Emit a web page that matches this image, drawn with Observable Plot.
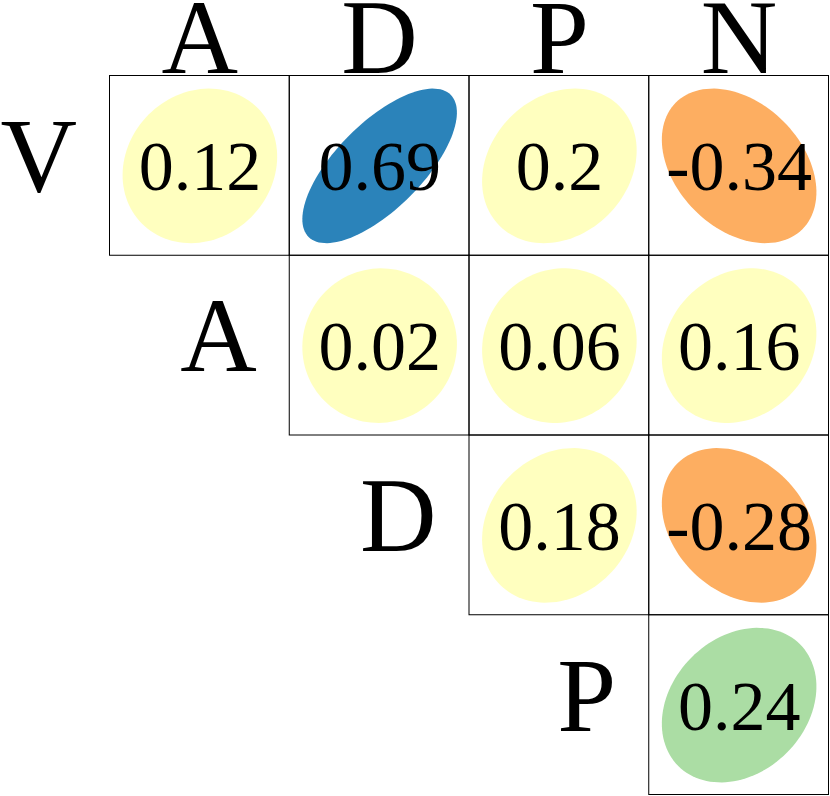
<!DOCTYPE html>
<html>
<head>
<meta charset="utf-8">
<script src="https://cdn.jsdelivr.net/npm/d3@7"></script>
<script src="https://cdn.jsdelivr.net/npm/@observablehq/plot@0.6"></script>
<style>
  html, body { margin: 0; padding: 0; background: #fff; }
  #chart svg { display: block; }
</style>
</head>
<body>
<div id="chart"></div>
<script>
// Row and column labels
const rowLabels = ["V", "A", "D", "P"];
const colLabels = ["A", "D", "P", "N"];
// Correlations, upper triangle (null = no cell)
const corrV = [0.12, 0.69, 0.2, -0.34];
const corrA = [null, 0.02, 0.06, 0.16];
const corrD = [null, null, 0.18, -0.28];
const corrP = [null, null, null, 0.24];
const corrRows = [corrV, corrA, corrD, corrP];
// Colour bins (right-closed, like R's cut) and palette
const binBreaks = [-0.6, -0.2, 0.2, 0.6];
const palette = ["#D7191C", "#FDAE61", "#FFFFBF", "#ABDDA4", "#2B83BA"];

const cells = [];
corrRows.forEach((row, i) => row.forEach((r, j) => {
  if (r !== null) cells.push({row: i, col: j, r, bin: d3.bisectLeft(binBreaks, r), id: `${i}-${j}`});
}));

// Ellipse outline per cell (shape of a bivariate normal contour with correlation r)
const scale = 0.43;
const ellipsePts = [];
for (const c of cells) {
  const dd = Math.acos(c.r);
  for (let k = 0; k < 120; k++) {
    const t = (2 * Math.PI * k) / 120;
    ellipsePts.push({
      id: c.id, bin: c.bin,
      x: c.col + 0.5 + scale * Math.cos(t + dd / 2),
      y: c.row + 0.5 - scale * Math.cos(t - dd / 2)
    });
  }
}

const font = "Liberation Serif";

const chart = Plot.plot({
  width: 830,
  height: 796,
  marginLeft: 109.5,
  marginRight: 1.5,
  marginTop: 75.5,
  marginBottom: 1.5,
  x: {domain: [0, 4], axis: null},
  y: {domain: [0, 4], reverse: true, axis: null},
  color: {type: "ordinal", domain: [0, 1, 2, 3, 4], range: palette},
  marks: [
    Plot.line(ellipsePts, {x: "x", y: "y", z: "id", fill: "bin", stroke: null, curve: "linear-closed"}),
    Plot.rect(cells, {x1: d => d.col, x2: d => d.col + 1, y1: d => d.row, y2: d => d.row + 1, fill: "none", stroke: "black", strokeWidth: 1}),
    Plot.text(cells, {x: d => d.col + 0.5, y: d => d.row + 0.5, text: d => String(d.r), fontFamily: font, fontSize: 70, lineAnchor: "bottom", dy: 24.5, fill: "black"}),
    Plot.text(colLabels, {x: (d, j) => j + 0.5, y: () => 0, text: d => d, fontFamily: font, fontSize: 106, lineAnchor: "bottom", dy: -3.5, fill: "black"}),
    Plot.text(rowLabels, {x: (d, i) => i, y: (d, i) => i + 0.5, text: d => d, fontFamily: font, fontSize: 106, lineAnchor: "bottom", textAnchor: "end", dx: -33, dy: 25.5, fill: "black"})
  ]
});
document.getElementById("chart").appendChild(chart);
</script>
</body>
</html>
